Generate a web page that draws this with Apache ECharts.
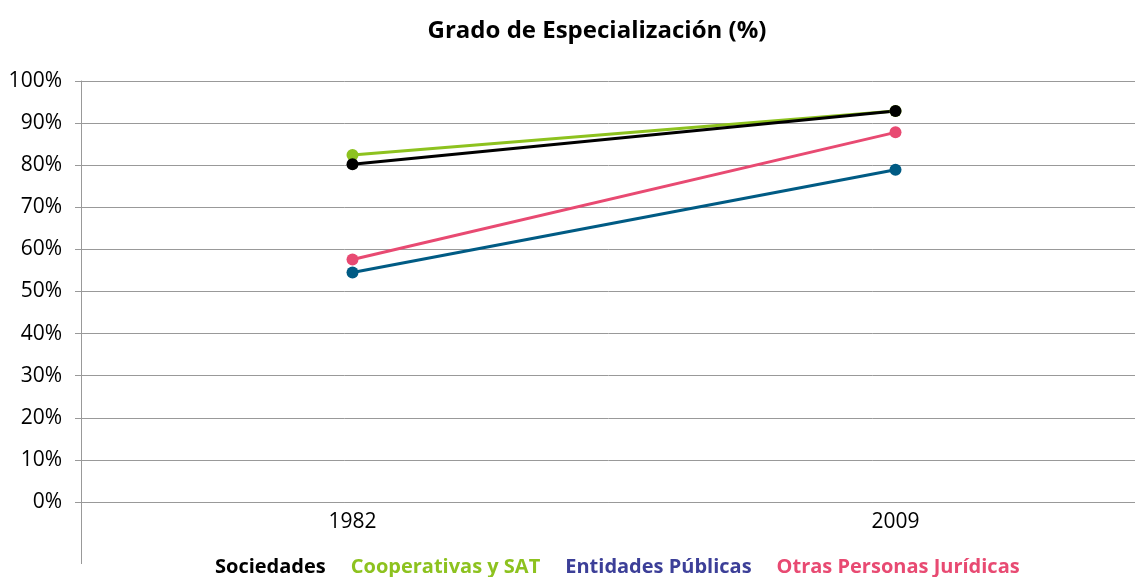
<!DOCTYPE html>
<html>
<head>
<meta charset="utf-8">
<script src="https://cdn.jsdelivr.net/npm/echarts@6/dist/echarts.min.js"></script>
<style>
  html, body { margin: 0; padding: 0; background: #fff; }
  #chart { width: 1135px; height: 577px; }
</style>
</head>
<body>
<div id="chart"></div>
<script>
// datos
const years = ['1982', '2009'];
const sociedades = [80.2, 92.9];
const cooperativas = [82.4, 92.9];
const entidades = [54.5, 78.9];
const otras = [57.6, 87.8];

const FONT = 'Open Sans';

function linea(name, data, color){
  return {
    name: name,
    type: 'line',
    data: data,
    symbol: 'circle',
    symbolSize: 12,
    lineStyle: { color: color, width: 3 },
    itemStyle: { color: color },
    emphasis: { disabled: true }
  };
}

let option = {
  animation: false,
  title: {
    text: 'Grado de Especialización (%)',
    left: 592,
    top: 14,
    textAlign: 'center',
    textStyle: { fontFamily: FONT, fontSize: 24, fontWeight: 'bold', color: '#000' }
  },
  legend: {
    top: 557,
    left: 210,
    itemGap: 20,
    itemWidth: 0,
    icon: 'none',
    selectedMode: false,
    padding: 0,
    textStyle: { fontFamily: FONT, fontSize: 20, fontWeight: 'bold', padding: 0 },
    data: [
      { name: 'Sociedades', textStyle: { color: '#000000' } },
      { name: 'Cooperativas y SAT', textStyle: { color: '#8dc21f' } },
      { name: 'Entidades Públicas', textStyle: { color: '#3c3f98' } },
      { name: 'Otras Personas Jurídicas', textStyle: { color: '#e84a72' } }
    ]
  },
  grid: { left: 81, top: 81, width: 1086, height: 421, outerBoundsMode: 'none' },
  xAxis: {
    type: 'category',
    data: years,
    boundaryGap: true,
    axisLine: { lineStyle: { color: '#999' } },
    axisTick: { show: false },
    axisLabel: { fontFamily: FONT, fontSize: 21, color: '#000', margin: 10 }
  },
  yAxis: {
    type: 'value',
    min: 0,
    max: 100,
    interval: 10,
    axisLine: { show: true, lineStyle: { color: '#999' } },
    axisTick: { show: true, length: 6, lineStyle: { color: '#999' } },
    splitLine: { lineStyle: { color: '#999' } },
    axisLabel: { fontFamily: FONT, fontSize: 21, color: '#000', margin: 19, formatter: '{value}%' }
  },
  graphic: [
    { type: 'line', shape: { x1: 81.5, y1: 502, x2: 81.5, y2: 564 }, style: { stroke: '#999', lineWidth: 1 } }
  ],
  series: [
    linea('Entidades Públicas', entidades, '#005b84'),
    linea('Otras Personas Jurídicas', otras, '#e84a72'),
    linea('Cooperativas y SAT', cooperativas, '#8dc21f'),
    linea('Sociedades', sociedades, '#000000')
  ]
};

let myChart = echarts.init(document.getElementById('chart'));
myChart.setOption(option);
</script>
</body>
</html>
